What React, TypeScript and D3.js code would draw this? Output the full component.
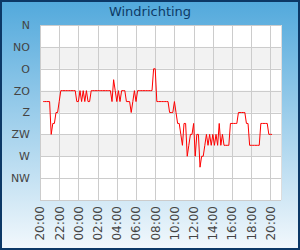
import React, { useEffect, useRef } from "react";
import * as d3 from "d3";

const width = 300;
const height = 250;

// compass labels for the y axis (degrees, 0 at top)
const dirLabels = ["N", "NO", "O", "ZO", "Z", "ZW", "W", "NW"];
const dirDegrees = [0, 45, 90, 135, 180, 225, 270, 315];
const bandStarts = [45, 135, 225];

// wind direction in degrees, one reading every 10 minutes from 20:20
const windDir = [
  157.5, 157.5, 157.5, 157.5, 157.5, 225, 202.5, 202.5, 180, 180,
  157.5, 135, 135, 135, 135, 135, 135, 135, 135, 135,
  135, 157.5, 157.5, 135, 157.5, 135, 157.5, 135, 157.5, 157.5,
  135, 135, 135, 135, 135, 135, 135, 135, 135, 135,
  135, 135, 135, 157.5, 112.5, 135, 157.5, 135, 157.5, 135,
  135, 135, 157.5, 157.5, 157.5, 180, 157.5, 135, 157.5, 135,
  135, 135, 135, 135, 135, 135, 135, 135, 135, 90,
  90, 157.5, 157.5, 157.5, 157.5, 157.5, 157.5, 157.5, 157.5, 180,
  180, 180, 157.5, 180, 202.5, 202.5, 225, 247.5, 202.5, 202.5,
  270, 247.5, 225, 225, 202.5, 270, 225, 225, 292.5, 270,
  270, 247.5, 225, 247.5, 225, 247.5, 225, 247.5, 225, 247.5,
  202.5, 247.5, 225, 247.5, 247.5, 247.5, 247.5, 202.5, 202.5, 202.5,
  202.5, 202.5, 180, 180, 180, 180, 180, 202.5, 202.5, 247.5,
  247.5, 247.5, 247.5, 247.5, 247.5, 247.5, 202.5, 202.5, 202.5, 202.5,
  202.5, 225, 225, 225,
];

const startTime = new Date(2024, 0, 1, 20, 20);
const domainStart = new Date(2024, 0, 1, 20, 0);
const domainEnd = new Date(2024, 0, 2, 21, 6);

const App = () => {
  const chart = useRef<SVGSVGElement>(null);

  useEffect(() => {
    const svg = d3.select(chart.current);
    svg.selectAll("*").remove();

    const margin = { top: 25, right: 19, bottom: 50, left: 40 };
    const x = d3
      .scaleTime()
      .domain([domainStart, domainEnd])
      .range([margin.left, width - margin.right]);
    const y = d3
      .scaleLinear()
      .domain([0, 360])
      .range([margin.top, height - margin.bottom]);

    const data = windDir.map((v, i) => ({
      t: d3.timeMinute.offset(startTime, i * 10),
      v,
    }));

    // background
    const grad = svg
      .append("defs")
      .append("linearGradient")
      .attr("id", "bg")
      .attr("x1", 0)
      .attr("y1", 0)
      .attr("x2", 0)
      .attr("y2", 1);
    grad.append("stop").attr("offset", "0%").attr("stop-color", "#52a9dc");
    grad.append("stop").attr("offset", "100%").attr("stop-color", "#f2f8fc");

    svg
      .append("rect")
      .attr("x", 1)
      .attr("y", 1)
      .attr("width", width - 2)
      .attr("height", height - 2)
      .attr("fill", "url(#bg)")
      .attr("stroke", "#0c3866")
      .attr("stroke-width", 2);

    // plot area
    svg
      .append("rect")
      .attr("x", margin.left)
      .attr("y", margin.top)
      .attr("width", width - margin.left - margin.right)
      .attr("height", height - margin.top - margin.bottom)
      .attr("fill", "white");

    svg
      .append("g")
      .selectAll("rect")
      .data(bandStarts)
      .join("rect")
      .attr("x", margin.left)
      .attr("width", width - margin.left - margin.right)
      .attr("y", (d) => y(d))
      .attr("height", (d) => y(d + 45) - y(d))
      .attr("fill", "#f2f2f2");

    const xTicks = x.ticks(d3.timeHour.every(2));

    // grid
    const grid = svg.append("g").attr("stroke", "#cccccc").attr("stroke-width", 1);
    grid
      .selectAll(".h")
      .data([...dirDegrees, 360])
      .join("line")
      .attr("x1", margin.left)
      .attr("x2", width - margin.right)
      .attr("y1", (d) => Math.round(y(d)) + 0.5)
      .attr("y2", (d) => Math.round(y(d)) + 0.5);
    grid
      .selectAll(".v")
      .data(xTicks)
      .join("line")
      .attr("x1", (d) => Math.round(x(d)) + 0.5)
      .attr("x2", (d) => Math.round(x(d)) + 0.5)
      .attr("y1", margin.top)
      .attr("y2", height - margin.bottom);
    svg
      .append("line")
      .attr("x1", width - margin.right + 0.5)
      .attr("x2", width - margin.right + 0.5)
      .attr("y1", margin.top)
      .attr("y2", height - margin.bottom)
      .attr("stroke", "#dddddd");

    // line
    const line = d3
      .line<{ t: Date; v: number }>()
      .x((d) => x(d.t))
      .y((d) => y(d.v));
    svg
      .append("path")
      .datum(data)
      .attr("fill", "none")
      .attr("stroke", "#ff0000")
      .attr("stroke-width", 1)
      .attr("d", line);

    // y labels
    svg
      .append("g")
      .selectAll("text")
      .data(dirDegrees)
      .join("text")
      .attr("x", 30)
      .attr("y", (d) => y(d))
      .attr("dy", "0.36em")
      .attr("text-anchor", "end")
      .attr("font-family", "DejaVu Sans")
      .attr("font-size", 11)
      .attr("fill", "#444444")
      .text((d, i) => dirLabels[i]);

    // x labels
    const fmt = d3.timeFormat("%H:%M");
    svg
      .append("g")
      .selectAll("text")
      .data(xTicks)
      .join("text")
      .attr("transform", (d) => `translate(${x(d)},206) rotate(-90)`)
      .attr("dy", "0.36em")
      .attr("text-anchor", "end")
      .attr("font-family", "DejaVu Sans")
      .attr("font-size", 12)
      .attr("fill", "#444444")
      .text((d) => fmt(d));

    // title
    svg
      .append("text")
      .attr("x", 150)
      .attr("y", 16)
      .attr("text-anchor", "middle")
      .attr("font-family", "DejaVu Sans")
      .attr("font-size", 13)
      .attr("fill", "#0d3a66")
      .text("Windrichting");
  }, []);

  return (
    <svg
      ref={chart}
      width={width}
      height={height}
      style={{ position: "absolute", left: 0, top: 0 }}
    ></svg>
  );
};

export default App;
